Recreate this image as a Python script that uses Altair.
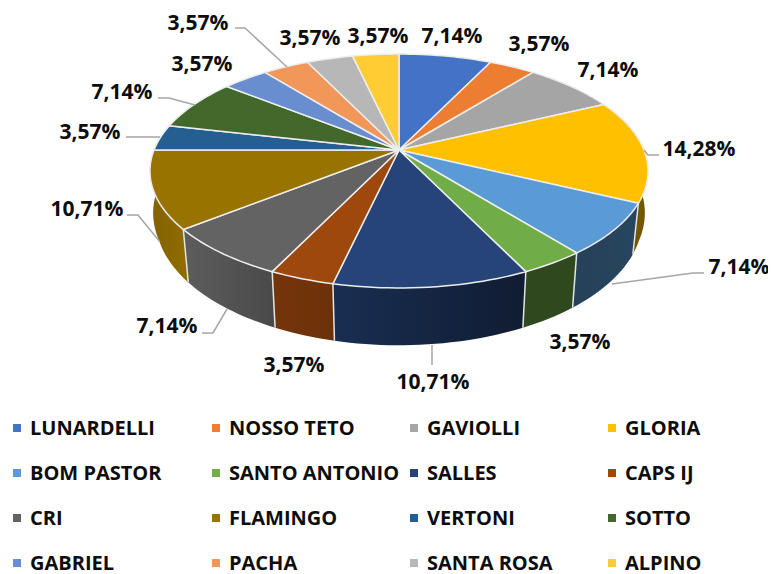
import numpy as np
import altair as alt

# ---- data
names = ["LUNARDELLI", "NOSSO TETO", "GAVIOLLI", "GLORIA", "BOM PASTOR", "SANTO ANTONIO",
         "SALLES", "CAPS IJ", "CRI", "FLAMINGO", "VERTONI", "SOTTO",
         "GABRIEL", "PACHA", "SANTA ROSA", "ALPINO"]
shares = [7.14, 3.57, 7.14, 14.28, 7.14, 3.57, 10.71, 3.57, 7.14, 10.71, 3.57, 7.14, 3.57, 3.57, 3.57, 3.57]
colors = ["#4472C4", "#ED7D31", "#A5A5A5", "#FFC000", "#5B9BD5", "#70AD47", "#264478", "#9E480E",
          "#636363", "#997300", "#255E91", "#43682B", "#698ED0", "#F1975A", "#B7B7B7", "#FFCD33"]

# ---- layout of the annotations (page pixels)
label_x = [452, 539, 608, 699, 739, 580, 433, 294, 167, 87, 90, 122, 202, 198, 310, 378]
label_y = [35, 43, 69, 148, 266, 341, 381, 364, 325, 208, 131, 91, 63, 22, 37, 35]
leaders = [
    [(644, 150), (648, 155), (659, 155)],
    [(612, 284), (693, 273), (704, 273)],
    [(432, 345), (432, 365)],
    [(227, 309), (213, 333), (202, 333)],
    [(127, 215), (138, 215), (160, 242)],
    [(126, 137), (160, 137)],
    [(158, 98), (169, 98), (195, 105)],
    [(235, 28), (245, 28), (287, 67)],
]
legend_col_x = [17, 216, 414, 612]
legend_row_y = [428, 473, 518, 563]

# ---- pie geometry: a circle seen in perspective
CX, CY, A, B, K, DEPTH = 399.0, 150.0, 245.0, 113.2, 0.1795, 47.0


def top(t):
    r = np.radians(t)
    u, v = np.sin(r), np.cos(r)
    w = 1 + K * v
    return CX + A * u / w, CY - B * v / w


def bottom(t):
    r = np.radians(t)
    x, y = top(t)
    shrink = np.interp(abs(t - 180), [0, 70, 95], [0.977, 0.977, 1.0])
    return CX + shrink * (x - CX), y + DEPTH / (1 + K * np.cos(r))


def shade(hex_color, t):
    f = np.interp(t, [90, 120, 141, 154, 192, 205, 231, 270, 300],
                  [0.45, 0.45, 0.42, 0.42, 0.68, 0.74, 0.95, 0.85, 0.85])
    rgb = [int(hex_color[i:i + 2], 16) for i in (1, 3, 5)]
    return "#%02x%02x%02x" % tuple(int(c * f) for c in rgb)


def feature(coords, kind="Polygon", **props):
    pts = [[float(x), float(y)] for x, y in coords]
    return {"type": "Feature", "properties": props,
            "geometry": {"type": kind, "coordinates": [pts] if kind == "Polygon" else pts}}


total = sum(shares)
edges = np.concatenate([[0], np.cumsum(shares) / total * 360])

walls, wall_edges, faces = [], [], []
for i, c in enumerate(colors):
    a, b = edges[i], edges[i + 1]
    n = max(2, int((b - a) / 1.5))
    ts = [a + (b - a) * j / n for j in range(n + 1)]
    faces.append(feature([(CX, CY)] + [top(t) for t in ts] + [(CX, CY)], fill=c))
    mid = (a + b) / 2
    if 60 < mid < 300:
        outline = [top(t) for t in ts] + [bottom(t) for t in reversed(ts)] + [top(ts[0])]
        gradient = alt.Gradient(gradient="linear", x1=0, x2=1, y1=0, y2=0, stops=[
            alt.GradientStop(offset=0, color=shade(c, b)),
            alt.GradientStop(offset=1, color=shade(c, a))])
        layer = alt.Chart(alt.Data(values=[feature(outline)])).mark_geoshape(fill=gradient, stroke=None)
        walls.append((-abs(mid - 180), layer))
    if 60 < b < 300:
        wall_edges.append(feature([top(b), bottom(b)], kind="LineString"))
wall_layers = [w for _, w in sorted(walls, key=lambda s: s[0])]
leader_features = [feature(p, kind="LineString") for p in leaders]

labels = [{"t": ("%.2f%%" % s).replace(".", ","), "lon": x, "lat": y}
          for s, x, y in zip(shares, label_x, label_y)]
legend = [{"name": n, "color": c,
           "lon": legend_col_x[i % 4], "tx": legend_col_x[i % 4] + 13,
           "lat": legend_row_y[i // 4]}
          for i, (n, c) in enumerate(zip(names, colors))]

FONT = "Open Sans"
edge = alt.Chart(alt.Data(values=wall_edges)).mark_geoshape(
    filled=False, stroke="#E4E4E4", strokeWidth=1.5)
face = alt.Chart(alt.Data(values=faces)).mark_geoshape(
    stroke="#EDEDED", strokeWidth=1.5, strokeJoin="round").encode(
    fill=alt.Fill("properties.fill:N", scale=None))
lead = alt.Chart(alt.Data(values=leader_features)).mark_geoshape(
    filled=False, stroke="#A6A6A6", strokeWidth=1.5)
pct = alt.Chart(alt.Data(values=labels)).mark_text(
    font=FONT, fontWeight="bold", fontSize=21, color="#0D0D0D", align="center", baseline="middle", dy=1.5
).encode(longitude="lon:Q", latitude="lat:Q", text="t:N")
sq = alt.Chart(alt.Data(values=legend)).mark_square(size=64, opacity=1).encode(
    longitude="lon:Q", latitude="lat:Q", color=alt.Color("color:N", scale=None))
leg = alt.Chart(alt.Data(values=legend)).mark_text(
    font=FONT, fontWeight="bold", fontSize=20, color="#0D0D0D", align="left", baseline="middle", dy=0.5
).encode(longitude="tx:Q", latitude="lat:Q", text="name:N")

chart = alt.layer(*wall_layers, edge, face, lead, pct, sq, leg).project(
    type="identity", scale=1, translate=[-8, -8]
).properties(
    width=760, height=566, padding=0,
    autosize=alt.AutoSizeParams(type="none"), background="white"
).configure_view(stroke=None)

chart.save("out.html", embed_options={"renderer": "svg", "actions": False})
